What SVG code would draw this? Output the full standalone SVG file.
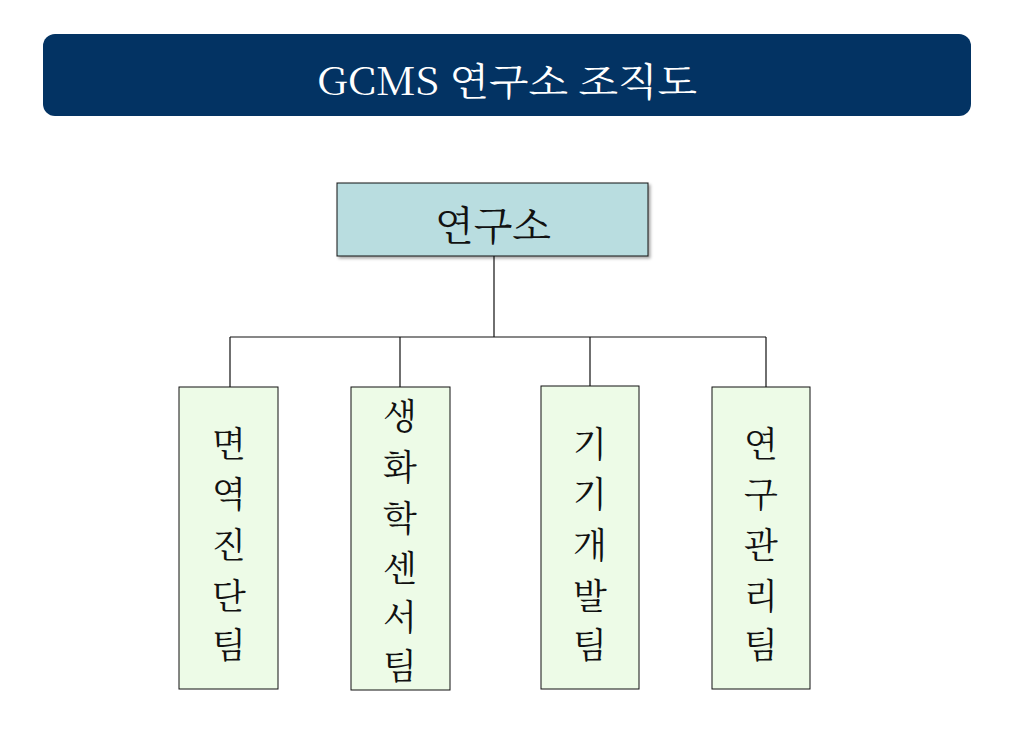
<svg xmlns="http://www.w3.org/2000/svg" width="1012" height="730" viewBox="0 0 1012 730">
<style>
.kr{font-family:"Noto Serif CJK KR","Liberation Serif","Noto Sans CJK KR",serif;fill:#111;text-anchor:middle;dominant-baseline:central}
.team{fill:#edfbe7;stroke:#111;stroke-width:1}
.conn{stroke:#111;stroke-width:1.2;fill:none}
</style>
<defs>
<filter id="sh" x="-10%" y="-10%" width="120%" height="130%">
<feDropShadow dx="2" dy="2" stdDeviation="1.5" flood-color="#000" flood-opacity="0.35"/>
</filter>
</defs>
<rect width="1012" height="730" fill="#fff"/>
<g id="header">
<rect x="43" y="34" width="928" height="82" rx="12" fill="#033363"/>
<text x="507" y="78" class="kr" style="fill:#fff;font-size:38px" textLength="380" lengthAdjust="spacingAndGlyphs">GCMS 연구소 조직도</text>
</g>
<g id="connectors">
<path class="conn" d="M494 256V337M230 337H766M230 337V387M400 337V387M590 337V386M766 337V387"/>
</g>
<g id="node-root">
<rect x="337" y="183" width="311" height="73" fill="#b9dde0" stroke="#111" stroke-width="1" filter="url(#sh)"/>
<text x="493" y="222" class="kr" style="font-size:40px">연구소</text>
</g>
<g id="node-team1">
<rect class="team" x="179" y="387" width="99" height="302"/>
<text class="kr" style="font-size:35px"><tspan x="229" y="442">면</tspan><tspan x="229" y="492">역</tspan><tspan x="229" y="543">진</tspan><tspan x="229" y="594">단</tspan><tspan x="229" y="643">팀</tspan></text>
</g>
<g id="node-team2">
<rect class="team" x="351" y="387" width="99" height="303"/>
<text class="kr" style="font-size:35px"><tspan x="400" y="414">생</tspan><tspan x="400" y="465">화</tspan><tspan x="400" y="516">학</tspan><tspan x="400" y="566">센</tspan><tspan x="400" y="615">서</tspan><tspan x="400" y="664">팀</tspan></text>
</g>
<g id="node-team3">
<rect class="team" x="541" y="386" width="98" height="303"/>
<text class="kr" style="font-size:35px"><tspan x="590" y="442">기</tspan><tspan x="590" y="492">기</tspan><tspan x="590" y="543">개</tspan><tspan x="590" y="594">발</tspan><tspan x="590" y="643">팀</tspan></text>
</g>
<g id="node-team4">
<rect class="team" x="712" y="387" width="98" height="302"/>
<text class="kr" style="font-size:35px"><tspan x="761" y="442">연</tspan><tspan x="761" y="492">구</tspan><tspan x="761" y="543">관</tspan><tspan x="761" y="594">리</tspan><tspan x="761" y="643">팀</tspan></text>
</g>
</svg>
